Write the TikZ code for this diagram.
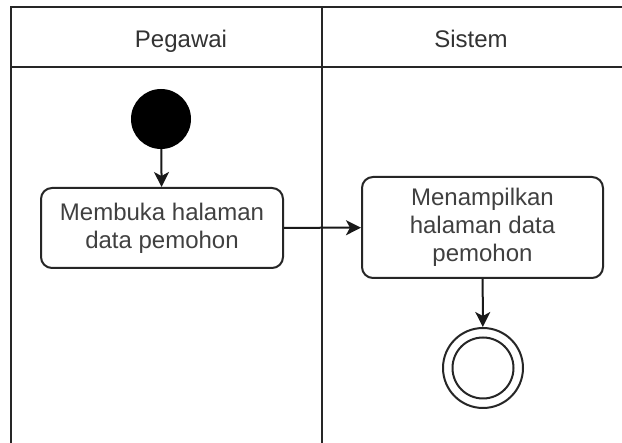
\documentclass[tikz,border=0pt]{standalone}
\usepackage{fontspec}
\setmainfont{Liberation Sans}
\usetikzlibrary{arrows.meta}
\begin{document}
\begin{tikzpicture}[x=1pt,y=-1pt,
  lane/.style={line width=2pt,black!85},
  lbl/.style={font=\fontsize{24}{28}\selectfont,text=black!80,inner sep=0pt},
  actbox/.style={draw=black!85,line width=2pt,rounded corners=11pt,align=center,
    font=\fontsize{24}{28}\selectfont,text=black!75,inner sep=0pt},
  flow/.style={line width=2pt,black!90,-{Stealth[length=15pt,width=15pt,inset=4pt]}}]
\useasboundingbox (0,0) rectangle (622,443);
\fill[white] (0,0) rectangle (622,443);
% swimlanes
\coordinate (tl) at (10.5,7.5);
\coordinate (tr) at (623,7.5);
\coordinate (hl) at (10.5,67);
\coordinate (hr) at (623,67);
\coordinate (bl) at (10.5,444);
\coordinate (dt) at (322,7.5);
\coordinate (db) at (322,444);
\draw[lane] (tr) -- (tl) -- (bl);
\draw[lane] (hl) -- (hr);
\draw[lane] (dt) -- (db);
\node[lbl,anchor=base] (pegawai) at (181,48) {Pegawai};
\node[lbl,anchor=base] (sistem) at (471,48) {Sistem};
% nodes
\node[circle,fill=black,minimum size=60pt,inner sep=0pt] (start) at (161,119) {};
\node[actbox,minimum width=242pt,minimum height=80pt] (a1) at (162,228)
  {Membuka halaman\\data pemohon};
\node[actbox,minimum width=241pt,minimum height=101pt] (a2) at (482.5,227.5)
  {Menampilkan\\halaman data\\pemohon};
\node[circle,draw=black!85,line width=2pt,minimum size=80pt,inner sep=0pt] (end) at (483,368) {};
\node[circle,draw=black!85,line width=2pt,minimum size=61pt,inner sep=0pt] (endin) at (483,368) {};
% flows
\draw[flow] (start) -- (a1);
\draw[flow] (a1) -- (a2);
\draw[flow] (a2) -- (end);
\end{tikzpicture}
\end{document}
